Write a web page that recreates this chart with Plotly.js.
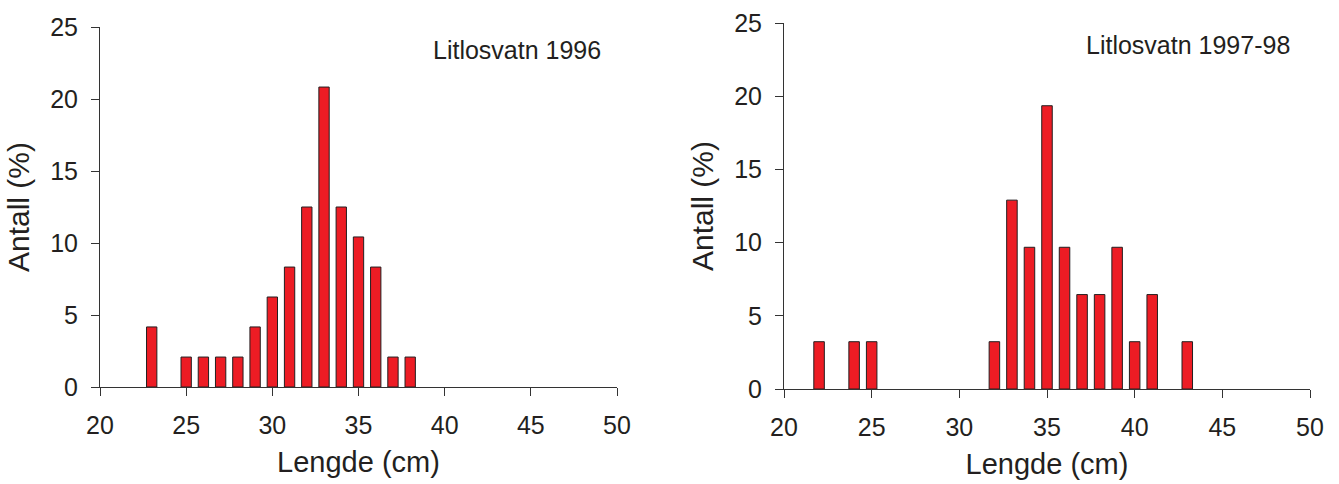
<!DOCTYPE html>
<html>
<head>
<meta charset="utf-8">
<script src="https://cdn.plot.ly/plotly-3.0.1.min.js"></script>
<style>html,body{margin:0;padding:0;background:#fff;}#chart{width:1339px;height:484px;}</style>
</head>
<body>
<div id="chart"></div>
<script>
// Litlosvatn 1996 (n = 48)
const lengths1996 = [23, 25, 26, 27, 28, 29, 30, 31, 32, 33, 34, 35, 36, 37, 38];
const percent1996 = [4.17, 2.08, 2.08, 2.08, 2.08, 4.17, 6.25, 8.33, 12.5, 20.83, 12.5, 10.42, 8.33, 2.08, 2.08];
// Litlosvatn 1997-98 (n = 31)
const lengths9798 = [22, 24, 25, 32, 33, 34, 35, 36, 37, 38, 39, 40, 41, 43];
const percent9798 = [3.23, 3.23, 3.23, 3.23, 12.9, 9.68, 19.35, 9.68, 6.45, 6.45, 9.68, 3.23, 6.45, 3.23];
const xTicks = [20, 25, 30, 35, 40, 45, 50];
const yTicks = [0, 5, 10, 15, 20, 25];
const label1 = "Litlosvatn 1996";
const label2 = "Litlosvatn 1997-98";
const xTitle = "Lengde (cm)";
const yTitle = "Antall (%)";

const W = 1339, H = 484;
const fontFam = "Liberation Sans, Arial, sans-serif";
const ink = "#231F20";
const barStyle = {color: "#ED1C24", line: {color: ink, width: 1}};

const traces = [
  {type: "bar", x: lengths1996, y: percent1996, width: 0.6, marker: barStyle, xaxis: "x", yaxis: "y", hoverinfo: "x+y"},
  {type: "bar", x: lengths9798, y: percent9798, width: 0.6, marker: barStyle, xaxis: "x2", yaxis: "y2", hoverinfo: "x+y"}
];

function xAxis(domain, anchor) {
  return {
    domain: domain, anchor: anchor, range: [20, 50], tickvals: xTicks, ticktext: xTicks.map(String),
    showline: true, linecolor: "#333", linewidth: 1, ticks: "outside", ticklen: 8, tickcolor: "#333",
    ticklabelstandoff: 8,
    showgrid: false, zeroline: false, automargin: false,
    tickfont: {family: fontFam, size: 25, color: ink},
    title: {text: xTitle, font: {family: fontFam, size: 29, color: ink}, standoff: 13}
  };
}
function yAxis(domain, anchor) {
  return {
    domain: domain, anchor: anchor, range: [0, 25], tickvals: yTicks, ticktext: yTicks.map(String),
    showline: true, linecolor: "#333", linewidth: 1, ticks: "outside", ticklen: 8, tickcolor: "#333",
    ticklabelstandoff: 8,
    showgrid: false, zeroline: false, automargin: false,
    tickfont: {family: fontFam, size: 25, color: ink},
    title: {text: yTitle, font: {family: fontFam, size: 30, color: ink}, standoff: 11}
  };
}

const layout = {
  width: W, height: H,
  margin: {l: 0, r: 0, t: 0, b: 0},
  paper_bgcolor: "#fff", plot_bgcolor: "#fff",
  showlegend: false,
  xaxis: xAxis([100 / W, 617 / W], "y"),
  yaxis: yAxis([(H - 387) / H, (H - 27) / H], "x"),
  xaxis2: xAxis([784 / W, 1310 / W], "y2"),
  yaxis2: yAxis([(H - 389) / H, (H - 23) / H], "x2"),
  annotations: [
    {text: label1, xref: "paper", yref: "paper", x: 517 / W, y: (H - 50) / H, showarrow: false,
     xanchor: "center", yanchor: "middle", font: {family: fontFam, size: 25, color: ink}},
    {text: label2, xref: "paper", yref: "paper", x: 1188 / W, y: (H - 45) / H, showarrow: false,
     xanchor: "center", yanchor: "middle", font: {family: fontFam, size: 25, color: ink}}
  ]
};

Plotly.newPlot("chart", traces, layout, {displayModeBar: false, staticPlot: true});
</script>
</body>
</html>
